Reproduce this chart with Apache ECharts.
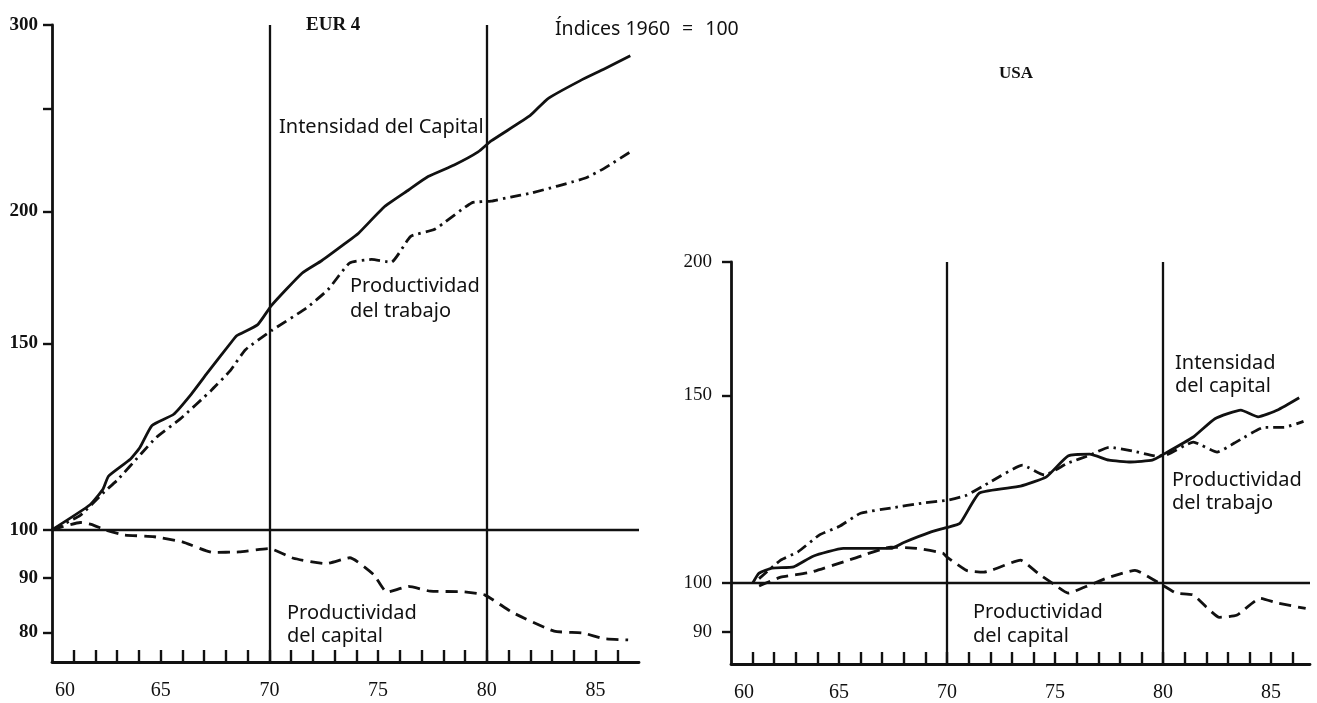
<!DOCTYPE html>
<html>
<head>
<meta charset="utf-8">
<script src="https://cdn.jsdelivr.net/npm/echarts@6/dist/echarts.min.js"></script>
<style>
html,body{margin:0;padding:0;background:#fff;}
#chart{width:1317px;height:703px;}
</style>
</head>
<body>
<div id="chart"></div>
<script>
// ---------- EUR 4 (left panel) ----------
const eurIntYears  = [60, 61.75, 62.35, 62.6, 63.6, 64.05, 64.6, 65.6, 66.4, 67.1, 68.3, 68.5, 69.45, 70.1, 71.5, 72.4, 73.5, 74.1, 75.3, 76.4, 77.3, 78.5, 79.6, 80.2, 82.0, 82.8, 84.3, 85.4, 86.6];
const eurIntValues = [100, 105.6, 109.3, 112.4, 116.6, 119.7, 125.5, 128.6, 134.3, 140.3, 150.9, 152.6, 156.2, 163, 174.8, 179.6, 186.6, 190.7, 202.1, 209.5, 215.7, 221.2, 227.6, 233.1, 246.4, 255.5, 265.8, 272.6, 280.6];

const eurLabYears  = [60, 61.3, 62.4, 63.0, 64.1, 64.8, 65.9, 67.3, 68.2, 68.9, 70.1, 71.7, 72.7, 73.7, 74.7, 75.6, 76.5, 77.6, 79.3, 80.2, 81.1, 82.0, 84.5, 85.4, 86.6];
const eurLabValues = [100, 103.2, 108.6, 111.4, 118.0, 122.3, 127.3, 135.3, 141.4, 148.0, 154.3, 162.0, 168.7, 178.8, 180.1, 179.0, 189.4, 192.3, 203.7, 204.5, 206.3, 208.0, 214.9, 219.6, 227.6];

const eurCapYears  = [60, 61.3, 61.8, 62.5, 63.3, 64.7, 66.0, 67.4, 68.6, 70.0, 71.1, 72.6, 73.7, 74.8, 75.4, 76.4, 77.4, 78.9, 79.9, 81.2, 83.1, 84.4, 85.4, 86.5];
const eurCapValues = [100, 101.6, 101.2, 99.9, 98.9, 98.5, 97.4, 95.2, 95.3, 96.0, 94.0, 92.9, 94.1, 90.7, 87.3, 88.4, 87.5, 87.4, 86.8, 83.5, 80.2, 79.9, 78.9, 78.7];

// ---------- USA (right panel) ----------
const usaIntYears  = [61.0, 61.3, 61.9, 62.9, 63.8, 65.2, 67.4, 68.0, 69.2, 70.0, 70.6, 71.5, 73.4, 74.6, 75.6, 76.6, 77.5, 78.5, 79.5, 80.0, 81.4, 82.4, 83.6, 84.4, 85.3, 86.3];
const usaIntValues = [100, 102.2, 103.3, 103.6, 106.0, 107.8, 107.8, 109.2, 111.6, 112.8, 113.8, 121.5, 123.3, 125.8, 131.6, 132.1, 130.4, 129.9, 130.4, 132.0, 137.1, 142.6, 145.3, 143.2, 145.3, 149.2];

const usaLabYears  = [61.3, 62.3, 63.1, 64.1, 65.0, 66.0, 67.4, 68.9, 70.0, 70.9, 72.0, 73.5, 74.5, 75.6, 76.6, 77.5, 78.6, 79.7, 80.0, 81.4, 82.5, 83.3, 84.7, 85.6, 86.5];
const usaLabValues = [101, 105.1, 107, 111, 113, 116.3, 117.6, 118.9, 119.6, 120.9, 124.4, 129.0, 126.3, 129.6, 131.8, 134.1, 133.0, 131.6, 131.6, 135.6, 132.7, 135.3, 140.0, 140.0, 141.8];

const usaCapYears  = [61.3, 62.3, 63.7, 65.7, 67.4, 68.6, 69.8, 70.0, 70.9, 71.7, 73.4, 74.2, 75.0, 75.6, 76.6, 77.5, 78.7, 79.9, 80.6, 81.4, 82.0, 82.6, 83.4, 84.5, 85.3, 86.6];
const usaCapValues = [99.4, 101.3, 102.4, 105.5, 108.1, 107.8, 106.7, 105.8, 102.8, 102.4, 105.1, 102.2, 99.6, 97.9, 99.6, 101.3, 102.8, 99.8, 97.9, 97.5, 95.0, 92.9, 93.3, 96.8, 95.8, 94.7];

// ---------- ticks ----------
const xTickYears   = [61,62,63,64,65,66,67,68,69,70,71,72,73,74,75,76,77,78,79,80,81,82,83,84,85,86];
const xLabelYears  = [60,65,70,75,80,85];
const eurYLabels   = [80,90,100,150,200,300];
const eurYTicks    = [80,90,100,150,200,250,300];
const usaYLabels   = [90,100,150,200];
const usaYTicks    = [90,100,150,200];
const refYears     = [70,80];
const baseIndex    = 100;

const zip = (xs, ys) => xs.map((x, i) => [x, ys[i]]);

const BLACK = '#111';
const serif = '"Liberation Serif", "DejaVu Serif", serif';
const sans = '"Noto Sans", "DejaVu Sans", sans-serif';

function xAxisCfg(gridIndex, max) {
  return {
    type: 'value', gridIndex, min: 60, max: max,
    axisLine: { show: true, onZero: false, lineStyle: { color: BLACK, width: 2.8 } },
    axisTick: { show: true, inside: true, length: 12, customValues: xTickYears, lineStyle: { color: BLACK, width: 2.4 } },
    axisLabel: {
      show: true, customValues: xLabelYears, margin: 19,
      color: BLACK, fontFamily: serif, fontSize: 20,
      formatter: v => (Math.round(v) === 60 ? '{s|60}' : String(Math.round(v))),
      rich: { s: { padding: [0, 0, 0, 26], fontFamily: serif, fontSize: 20, color: BLACK } }
    },
    splitLine: { show: false }
  };
}
function yAxisCfg(gridIndex, min, max, labels, ticks, bold, margin, size) {
  return {
    type: 'log', logBase: 10, gridIndex, min, max,
    axisLine: { show: true, onZero: false, lineStyle: { color: BLACK, width: 2.8 } },
    axisTick: { show: true, inside: false, length: 9, customValues: ticks, lineStyle: { color: BLACK, width: 2.4 } },
    axisLabel: {
      show: true, customValues: labels, margin: margin,
      color: BLACK, fontFamily: serif, fontSize: size, fontWeight: bold ? 'bold' : 'normal',
      padding: [0, 0, 10, 0],
      formatter: v => String(Math.round(v))
    },
    splitLine: { show: false }, minorTick: { show: false }
  };
}

const refLineStyle = { color: BLACK, width: 2.3, type: 'solid' };
function refMarks() {
  return {
    silent: true, symbol: ['none', 'none'], animation: false,
    label: { show: false },
    lineStyle: refLineStyle,
    data: refYears.map(y => ({ xAxis: y })).concat([{ yAxis: baseIndex }])
  };
}

function lineSeries(idx, data, type, withMarks) {
  const s = {
    type: 'line', xAxisIndex: idx, yAxisIndex: idx, data,
    showSymbol: false, symbol: 'none', smooth: 0.15, animation: false, silent: true,
    lineStyle: { color: BLACK, width: 2.8, type: type, cap: 'butt', join: 'round' },
    z: 3
  };
  if (withMarks) s.markLine = refMarks();
  return s;
}

const DASH = [12, 7];
const DASHDOT = [11, 5, 2.5, 5];

const textStyleLabel = { font: '20px ' + sans, fill: BLACK };

const option = {
  backgroundColor: '#fff',
  animation: false,
  grid: [
    { left: 52, top: 25, right: 678, bottom: 41, containLabel: false },
    { left: 731, top: 262, right: 7, bottom: 38, containLabel: false }
  ],
  xAxis: [xAxisCfg(0, 87), xAxisCfg(1, 86.8)],
  yAxis: [
    yAxisCfg(0, 75, 300, eurYLabels, eurYTicks, true, 14, 19),
    yAxisCfg(1, 84, 200, usaYLabels, usaYTicks, false, 19, 19)
  ],
  series: [
    lineSeries(0, zip(eurIntYears, eurIntValues), 'solid', true),
    lineSeries(0, zip(eurLabYears, eurLabValues), DASHDOT, false),
    lineSeries(0, zip(eurCapYears, eurCapValues), DASH, false),
    lineSeries(1, zip(usaIntYears, usaIntValues), 'solid', true),
    lineSeries(1, zip(usaLabYears, usaLabValues), DASHDOT, false),
    lineSeries(1, zip(usaCapYears, usaCapValues), DASH, false)
  ],
  graphic: [
    { type: 'text', left: 306, top: 16, style: { text: 'EUR 4', font: 'bold 19px ' + serif, fill: BLACK } },
    { type: 'text', left: 555, top: 19, style: {
        text: '{a|Índices 1960}{b|=}{a|100}',
        rich: {
          a: { fontFamily: sans, fontSize: 19.5, fill: BLACK, color: BLACK },
          b: { fontFamily: sans, fontSize: 19.5, fill: BLACK, color: BLACK, padding: [0, 12, 0, 12] }
        }
      } },
    { type: 'text', left: 999, top: 65, style: { text: 'USA', font: 'bold 17px ' + serif, fill: BLACK } },

    { type: 'text', left: 279, top: 117, style: Object.assign({ text: 'Intensidad del Capital' }, textStyleLabel) },
    { type: 'text', left: 350, top: 274, style: Object.assign({ text: 'Productividad\ndel trabajo', lineHeight: 25 }, textStyleLabel) },
    { type: 'text', left: 287, top: 602, style: Object.assign({ text: 'Productividad\ndel capital', lineHeight: 23 }, textStyleLabel) },

    { type: 'text', left: 1175, top: 352, style: Object.assign({ text: 'Intensidad\ndel capital', lineHeight: 23 }, textStyleLabel) },
    { type: 'text', left: 1172, top: 469, style: Object.assign({ text: 'Productividad\ndel trabajo', lineHeight: 23 }, textStyleLabel) },
    { type: 'text', left: 973, top: 600, style: Object.assign({ text: 'Productividad\ndel capital', lineHeight: 24 }, textStyleLabel) }
  ]
};

const chart = echarts.init(document.getElementById('chart'), null, { renderer: 'canvas' });
chart.setOption(option);
</script>
</body>
</html>
